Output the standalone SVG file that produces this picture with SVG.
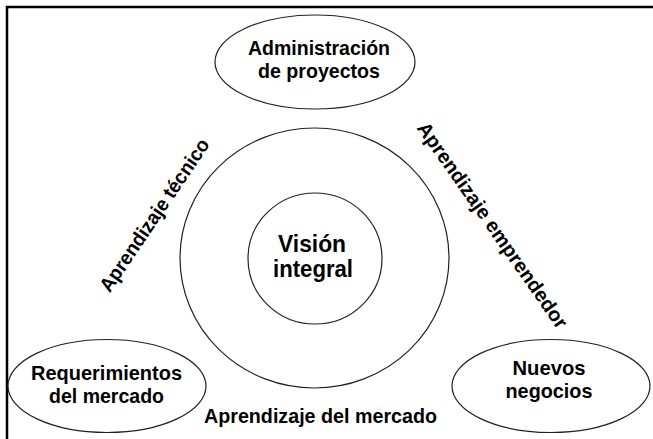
<svg xmlns="http://www.w3.org/2000/svg" width="653" height="439" viewBox="0 0 653 439">
<style>
.n{fill:#fff;stroke:#222;stroke-width:1.2}
.t{font-family:"Liberation Sans",Arial,sans-serif;font-weight:bold;font-size:21px;fill:#000;text-anchor:middle}
.c{font-size:24px}
.r{font-size:20px}
</style>
<rect width="653" height="439" fill="#fff"/>
<path d="M7,439 V7 H653" fill="none" stroke="#000" stroke-width="2.5"/>
<g id="outer"><ellipse class="n" cx="314.5" cy="258" rx="134.5" ry="130"/></g>
<g id="vision"><ellipse class="n" cx="315" cy="258.5" rx="67" ry="65.5"/>
<text class="t c" x="312" y="252" textLength="68" lengthAdjust="spacingAndGlyphs">Visión</text>
<text class="t c" x="313" y="277" textLength="80" lengthAdjust="spacingAndGlyphs">integral</text></g>
<g id="admin"><ellipse class="n" cx="315" cy="62" rx="100" ry="47"/>
<text class="t" x="319" y="55" textLength="142" lengthAdjust="spacingAndGlyphs">Administración</text>
<text class="t" x="319" y="78" textLength="122" lengthAdjust="spacingAndGlyphs">de proyectos</text></g>
<g id="req"><ellipse class="n" cx="107" cy="386" rx="99" ry="46.5"/>
<text class="t" x="106.5" y="380" textLength="151" lengthAdjust="spacingAndGlyphs">Requerimientos</text>
<text class="t" x="106.5" y="403" textLength="115" lengthAdjust="spacingAndGlyphs">del mercado</text></g>
<g id="nuevos"><ellipse class="n" cx="551" cy="386" rx="99" ry="46.5"/>
<text class="t" x="549" y="375" textLength="73" lengthAdjust="spacingAndGlyphs">Nuevos</text>
<text class="t" x="549" y="398" textLength="87" lengthAdjust="spacingAndGlyphs">negocios</text></g>
<g id="connectors">
<text class="t" x="320.5" y="423" textLength="233" lengthAdjust="spacingAndGlyphs">Aprendizaje del mercado</text>
<text class="t r" x="160" y="219" transform="rotate(-56 160 219)" textLength="180" lengthAdjust="spacingAndGlyphs">Aprendizaje técnico</text>
<text class="t r" x="487" y="229" transform="rotate(55 487 229)">Aprendizaje emprendedor</text>
</g>
</svg>
